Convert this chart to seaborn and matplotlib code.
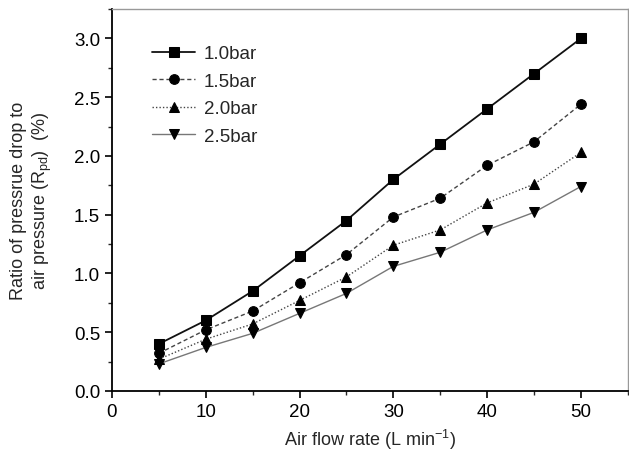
import numpy as np
import pandas as pd
import matplotlib
matplotlib.use("Agg")
import matplotlib.pyplot as plt
import seaborn as sns
from matplotlib.ticker import MultipleLocator

# air flow rate (L/min)
flow = [5, 10, 15, 20, 25, 30, 35, 40, 45, 50]

# ratio of pressure drop to air pressure (%) for each pressure
r_10bar = [0.40, 0.60, 0.85, 1.15, 1.45, 1.80, 2.10, 2.40, 2.70, 3.00]
r_15bar = [0.32, 0.52, 0.68, 0.92, 1.16, 1.48, 1.64, 1.92, 2.12, 2.44]
r_20bar = [0.27, 0.44, 0.57, 0.77, 0.97, 1.24, 1.37, 1.60, 1.76, 2.03]
r_25bar = [0.23, 0.37, 0.49, 0.66, 0.83, 1.06, 1.18, 1.37, 1.52, 1.74]

labels = ["1.0bar", "1.5bar", "2.0bar", "2.5bar"]
series = [r_10bar, r_15bar, r_20bar, r_25bar]

sns.set_style("ticks")
plt.rcParams["font.family"] = ["Liberation Sans", "DejaVu Sans"]
plt.rcParams["mathtext.fontset"] = "custom"
plt.rcParams["mathtext.rm"] = "Liberation Sans"
plt.rcParams["mathtext.it"] = "Liberation Sans"

fig = plt.figure(figsize=(6.29, 4.6), dpi=100)
ax = fig.add_axes([0.178, 0.148, 0.82, 0.83])

# line style, colour, width, marker for each series
styles = [
    ("-", "#111111", 1.3, "s"),
    ((0, (3, 2)), "#444444", 1.0, "o"),
    ((0, (1, 1.5)), "#444444", 1.0, "^"),
    ("-", "#777777", 1.0, "v"),
]

for lab, vals, (ls, col, lw, mk) in zip(labels, series, styles):
    df = pd.DataFrame({"flow": flow, "ratio": vals})
    sns.lineplot(data=df, x="flow", y="ratio", ax=ax, color=col, linestyle=ls,
                 linewidth=lw, marker=mk, markersize=7, markerfacecolor="black",
                 markeredgecolor="black", label=lab)

ax.set_xlim(0, 55)
ax.set_ylim(0, 3.25)
ax.xaxis.set_major_locator(MultipleLocator(10))
ax.xaxis.set_minor_locator(MultipleLocator(5))
ax.yaxis.set_major_locator(MultipleLocator(0.5))
ax.yaxis.set_minor_locator(MultipleLocator(0.25))
ax.yaxis.set_major_formatter(matplotlib.ticker.FormatStrFormatter("%.1f"))

ax.tick_params(which="major", direction="out", length=5, width=1.2, labelsize=13.5, colors="black")
ax.tick_params(which="minor", direction="out", length=3, width=1.0)

for side in ["left", "bottom"]:
    ax.spines[side].set_color("black")
    ax.spines[side].set_linewidth(1.3)
for side in ["top", "right"]:
    ax.spines[side].set_visible(True)
    ax.spines[side].set_color("#999999")
    ax.spines[side].set_linewidth(1.0)

ax.set_xlabel("Air flow rate (L min$^{-1}$)", fontsize=13, labelpad=5)
ax.set_ylabel("Ratio of pressrue drop to\nair pressure (R$_{pd}$)  (%)", fontsize=13,
              labelpad=14, linespacing=1.3)

leg = ax.legend(loc="upper left", bbox_to_anchor=(0.045, 0.95), frameon=False,
                fontsize=13.5, handlelength=2.3, labelspacing=0.55, handletextpad=0.45)

fig.savefig("out.png", dpi=100)
